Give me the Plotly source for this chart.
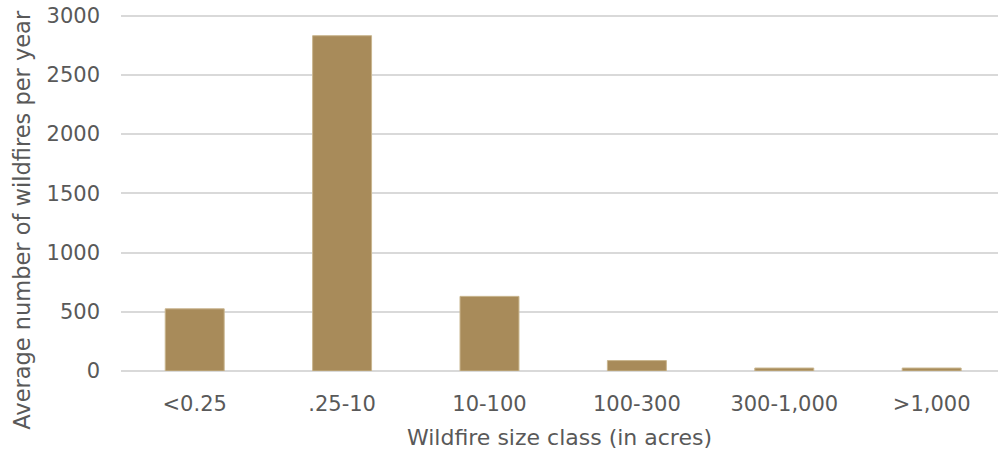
import plotly.graph_objects as go

size_classes = ["<0.25", ".25-10", "10-100", "100-300", "300-1,000", ">1,000"]
fires_per_year = [525, 2830, 630, 88, 25, 25]

BAR_COLOR = "#A88B5A"
GRID_COLOR = "#D9D9D9"
TEXT_COLOR = "#595959"
FONT = "DejaVu Sans, Liberation Sans, sans-serif"

fig = go.Figure(
    go.Bar(
        x=size_classes,
        y=fires_per_year,
        marker=dict(color=BAR_COLOR, line=dict(color="#C9B68F", width=1)),
    )
)

fig.update_layout(
    width=998,
    height=453,
    margin=dict(l=121, r=0, t=12, b=82),
    plot_bgcolor="white",
    paper_bgcolor="white",
    bargap=0.6,
    showlegend=False,
    font=dict(family=FONT, size=21, color=TEXT_COLOR),
)

fig.update_xaxes(
    range=[-0.5, 5.45],  # right edge cut off like the source image
    automargin=False,
    showgrid=False,
    showline=False,
    ticks="",
    ticklabelstandoff=18,
    tickfont=dict(size=21),
    title=dict(text="Wildfire size class (in acres)", font=dict(size=22), standoff=14),
)

fig.update_yaxes(
    range=[0, 3030],
    automargin=False,
    tickvals=[0, 500, 1000, 1500, 2000, 2500, 3000],
    ticklabeloverflow="allow",
    showgrid=True,
    gridcolor=GRID_COLOR,
    gridwidth=2,
    zeroline=True,
    zerolinecolor=GRID_COLOR,
    zerolinewidth=2,
    ticks="",
    ticklabelstandoff=20,
    tickfont=dict(size=21),
)

fig.add_annotation(
    text="Average number of wildfires per year",
    textangle=-90,
    xref="paper",
    yref="paper",
    x=-0.113,
    y=0.421,
    xanchor="center",
    yanchor="middle",
    showarrow=False,
    borderpad=0,
    font=dict(size=22.5, color=TEXT_COLOR),
)

# drop the default 8px body margin so the figure fills the window
fig.write_html(
    "out.html",
    config={"displayModeBar": False},
    post_script="document.body.style.margin='0';",
)
